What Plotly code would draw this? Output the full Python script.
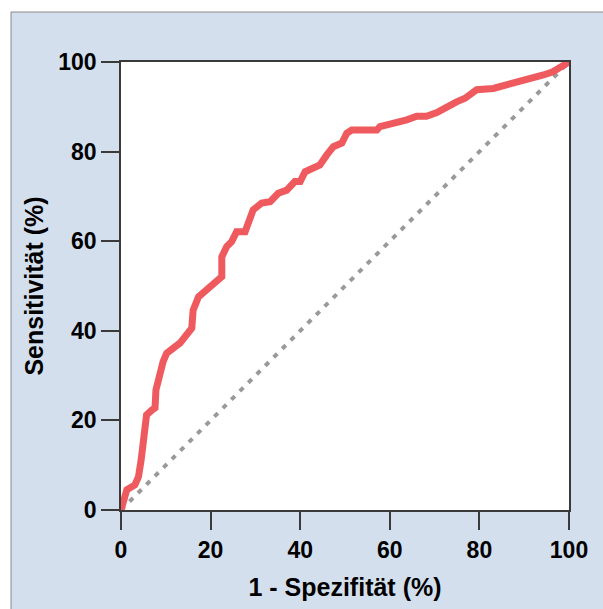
import plotly.graph_objects as go

# ROC curve: 1 - specificity (%) vs. sensitivity (%)
fpr = [0, 1.3, 3.1, 3.9, 4.5, 5.4, 5.7, 6.9, 7.6, 7.8, 8.7, 9.4, 10.2, 12.1, 13.2,
       15.8, 16.1, 17.3, 19.5, 21.4, 22.5, 22.5, 23.6, 24.7, 25.8, 27.7, 28.8, 29.5,
       31.4, 33.3, 35.1, 37.0, 38.8, 40.0, 41.1, 42.2, 44.4, 45.9, 47.4, 49.3, 50.4,
       51.5, 57.1, 57.8, 59.3, 61.5, 63.8, 66.0, 68.2, 70.5, 72.7, 74.9, 76.8, 79.4,
       83.1, 84.6, 88.3, 91.3, 94.3, 96.4, 99.1, 100]
tpr = [0, 4.5, 5.6, 7.4, 11.2, 17.9, 21.2, 22.3, 22.8, 26.8, 30.6, 33.1, 35.0, 36.2, 37.3,
       40.6, 44.6, 47.6, 49.5, 51.3, 52.1, 56.5, 58.8, 59.9, 62.1, 62.1, 64.7, 67.0,
       68.5, 68.8, 70.7, 71.4, 73.3, 73.3, 75.5, 76.1, 77.0, 79.2, 81.1, 81.9, 84.1,
       84.8, 84.8, 85.6, 85.9, 86.3, 87.1, 87.9, 87.9, 88.7, 90.0, 91.1, 91.9, 93.8,
       94.1, 94.5, 95.2, 96.3, 97.1, 97.8, 99.3, 100]

# reference diagonal (chance line)
diag_x = [0, 100]
diag_y = [0, 100]

tick_vals = [0, 20, 40, 60, 80, 100]
x_title = "1 - Spezifität (%)"
y_title = "Sensitivität (%)"

FONT = "Liberation Sans, Arial, sans-serif"
BG = "#d4dfee"
AXIS = "#3a3a3a"

fig = go.Figure()
fig.add_trace(go.Scatter(
    x=diag_x, y=diag_y, mode="lines",
    line=dict(color="#9a9a9a", width=4, dash="5px,7px"),
    hoverinfo="skip", showlegend=False,
))
fig.add_trace(go.Scatter(
    x=fpr, y=tpr, mode="lines",
    line=dict(color="#ef5a5e", width=7),
    showlegend=False,
))

axis_common = dict(
    range=[0, 100], tickvals=tick_vals, ticks="outside", ticklen=18,
    tickwidth=1.8, tickcolor=AXIS, showline=True, linecolor=AXIS, linewidth=1.8,
    mirror=True, showgrid=False, zeroline=False, fixedrange=True,
    tickfont=dict(family=FONT, size=23, color="#000000", weight="bold"),
)

fig.update_layout(
    width=603, height=609,
    margin=dict(l=121, r=34, t=62, b=99, pad=0),
    paper_bgcolor="white", plot_bgcolor="white",
    xaxis=dict(**axis_common,
               title=dict(text=x_title, standoff=17,
                          font=dict(family=FONT, size=25, color="#000000", weight="bold"))),
    yaxis=dict(**axis_common,
               title=dict(text=y_title, standoff=7,
                          font=dict(family=FONT, size=25, color="#000000", weight="bold"))),
    shapes=[
        # light blue frame behind the chart
        dict(type="rect", xref="paper", yref="paper", x0=-0.2455, x1=1.3, y0=-0.5, y1=1.1116,
             fillcolor=BG, line=dict(color="#8a8a8a", width=1), layer="below"),
        # white plotting area
        dict(type="rect", xref="paper", yref="paper", x0=0, x1=1, y0=0, y1=1,
             fillcolor="white", line=dict(width=0), layer="below"),
    ],
)

fig.write_html("out.html")
